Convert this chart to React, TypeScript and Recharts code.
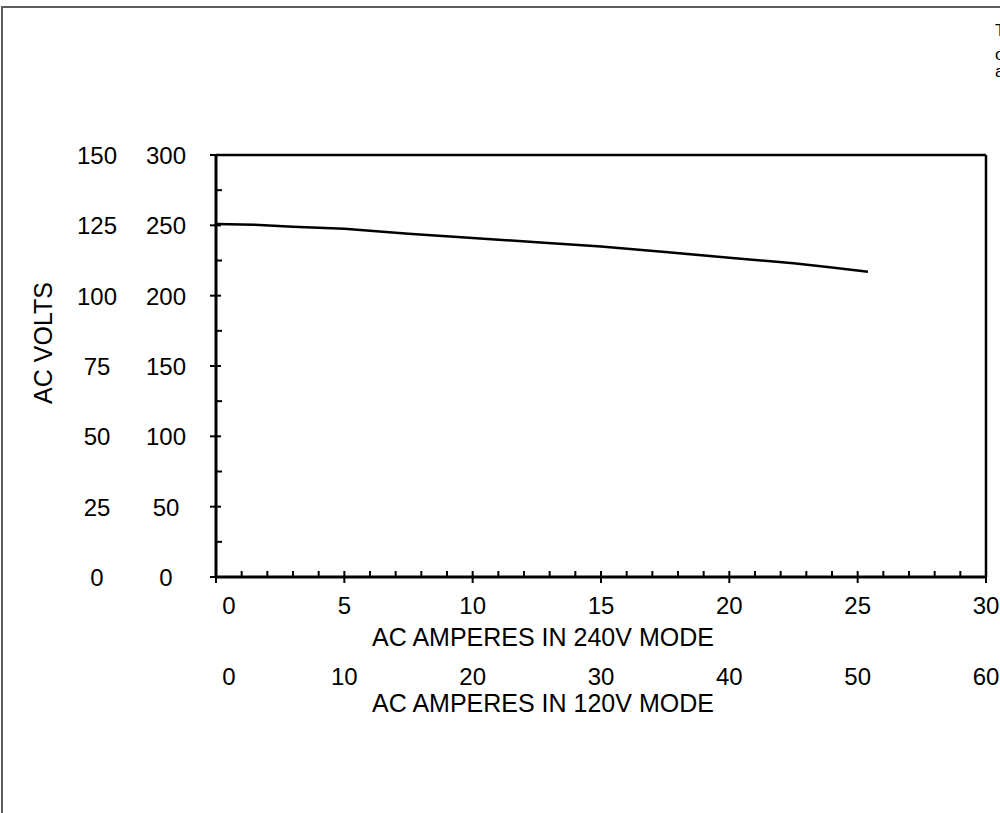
import { LineChart, Line, XAxis, YAxis, ReferenceLine, Label } from "recharts";

// load curve (240V mode amps vs AC volts)
const amps = [0, 1.5, 3, 5, 7.5, 10, 12.5, 15, 17.5, 20, 22.5, 24, 25.4];
const volts = [251, 250.5, 249, 247.5, 244, 241, 238, 235, 231, 227, 223, 220, 217];

const xTicks = [0, 1, 2, 3, 4, 5, 6, 7, 8, 9, 10, 11, 12, 13, 14, 15, 16, 17, 18, 19, 20, 21, 22, 23, 24, 25, 26, 27, 28, 29, 30];
const xMajor240 = [0, 5, 10, 15, 20, 25, 30];
const xMajor120 = [0, 10, 20, 30, 40, 50, 60];

const yTicks = [0, 25, 50, 75, 100, 125, 150, 175, 200, 225, 250, 275, 300];
const yMajor240 = [0, 50, 100, 150, 200, 250, 300];
const yMajor120 = [0, 25, 50, 75, 100, 125, 150];

const cornerNote = ["Typical", "output", "at"];

const data = amps.map((a, i) => ({ amps: a, volts: volts[i] }));

const FONT = "'Liberation Sans', Arial, Helvetica, sans-serif";

const XTick = (props: any) => {
  const { x, y, payload } = props;
  const idx = xMajor240.indexOf(payload.value);
  if (idx < 0) {
    return <line x1={x} x2={x} y1={y - 6} y2={y} stroke="#000" strokeWidth={2} />;
  }
  const lx = payload.value === 0 ? x + 13 : x;
  return (
    <g>
      <line x1={x} x2={x} y1={y - 6} y2={y + 6} stroke="#000" strokeWidth={2} />
      <text x={lx} y={y + 37} textAnchor="middle" fontSize={24} fontFamily={FONT} fill="#000">
        {xMajor240[idx]}
      </text>
      <text x={lx} y={y + 108} textAnchor="middle" fontSize={24} fontFamily={FONT} fill="#000">
        {xMajor120[idx]}
      </text>
    </g>
  );
};

const YTick = (props: any) => {
  const { x, y, payload } = props;
  const idx = yMajor240.indexOf(payload.value);
  if (idx < 0) {
    return <line x1={x} x2={x + 6} y1={y} y2={y} stroke="#000" strokeWidth={2} />;
  }
  return (
    <g>
      <line x1={x - 6} x2={x + 5} y1={y} y2={y} stroke="#000" strokeWidth={2} />
      <text x={x - 119} y={y + 9} textAnchor="middle" fontSize={24} fontFamily={FONT} fill="#000">
        {yMajor120[idx]}
      </text>
      <text x={x - 50} y={y + 9} textAnchor="middle" fontSize={24} fontFamily={FONT} fill="#000">
        {yMajor240[idx]}
      </text>
    </g>
  );
};

export default function App() {
  const noteLine = { position: "absolute" as const, left: 995, fontSize: 17, lineHeight: "17px", whiteSpace: "nowrap" as const };
  return (
    <div
      style={{
        position: "absolute",
        left: 0,
        top: 0,
        width: 1000,
        height: 813,
        overflow: "hidden",
        background: "#fff",
        fontFamily: FONT,
      }}
    >
      <div
        style={{
          position: "absolute",
          left: 1,
          top: 6,
          width: 1100,
          height: 900,
          border: "2px solid #5c5c5c",
        }}
      />
      <div style={{ ...noteLine, top: 22 }}>{cornerNote[0]}</div>
      <div style={{ ...noteLine, top: 46 }}>{cornerNote[1]}</div>
      <div style={{ ...noteLine, top: 63 }}>{cornerNote[2]}</div>
      <LineChart
        width={1000}
        height={813}
        data={data}
        margin={{ top: 155, right: 14, bottom: 0, left: 0 }}
        style={{ position: "absolute", left: 0, top: 0 }}
      >
        <XAxis
          dataKey="amps"
          type="number"
          domain={[0, 30]}
          ticks={xTicks}
          interval={0}
          height={236}
          tickSize={0}
          tickMargin={0}
          tickLine={false}
          tick={XTick}
          axisLine={{ stroke: "#000", strokeWidth: 3 }}
        >
          <Label
            content={(p: any) => {
              const vb = p.viewBox;
              const cx = vb.x + vb.width / 2 - 58;
              return (
                <g fontSize={25} fontFamily={FONT} fill="#000">
                  <text x={cx} y={vb.y + 69} textAnchor="middle">AC AMPERES IN 240V MODE</text>
                  <text x={cx} y={vb.y + 135} textAnchor="middle">AC AMPERES IN 120V MODE</text>
                </g>
              );
            }}
          />
        </XAxis>
        <YAxis
          type="number"
          domain={[0, 300]}
          ticks={yTicks}
          interval={0}
          width={216}
          tickSize={0}
          tickMargin={0}
          tickLine={false}
          tick={YTick}
          axisLine={{ stroke: "#000", strokeWidth: 3 }}
        >
          <Label
            content={(p: any) => {
              const vb = p.viewBox;
              const x = vb.x + 52;
              const y = vb.y + vb.height / 2 - 23;
              return (
                <text
                  x={x}
                  y={y}
                  transform={`rotate(-90 ${x} ${y})`}
                  textAnchor="middle"
                  fontSize={25}
                  fontFamily={FONT}
                  fill="#000"
                >
                  AC VOLTS
                </text>
              );
            }}
          />
        </YAxis>
        <ReferenceLine y={300} stroke="#000" strokeWidth={2.5} />
        <ReferenceLine x={30} stroke="#000" strokeWidth={2.5} />
        <Line
          type="linear"
          dataKey="volts"
          stroke="#000"
          strokeWidth={2.5}
          dot={false}
          isAnimationActive={false}
        />
      </LineChart>
    </div>
  );
}
